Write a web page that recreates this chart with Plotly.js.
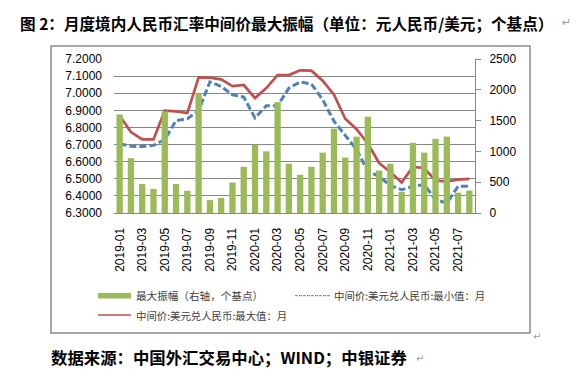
<!DOCTYPE html>
<html>
<head>
<meta charset="utf-8">
<script src="https://cdn.plot.ly/plotly-3.0.1.min.js"></script>
<style>html,body{margin:0;padding:0;background:#fff;}#chart{width:583px;height:380px;}</style>
</head>
<body>
<div id="chart"></div>
<script>
var months = ['2019-01','2019-02','2019-03','2019-04','2019-05','2019-06','2019-07','2019-08','2019-09','2019-10','2019-11','2019-12',
              '2020-01','2020-02','2020-03','2020-04','2020-05','2020-06','2020-07','2020-08','2020-09','2020-10','2020-11','2020-12',
              '2021-01','2021-02','2021-03','2021-04','2021-05','2021-06','2021-07','2021-08'];
var xTickLabels = ['2019-01','2019-03','2019-05','2019-07','2019-09','2019-11','2020-01','2020-03','2020-05','2020-07','2020-09','2020-11','2021-01','2021-03','2021-05','2021-07'];
var amplitude = [1600, 890, 470, 390, 1650, 470, 360, 1950, 210, 245, 495, 750,
                 1110, 1000, 1800, 800, 620, 750, 980, 1370, 900, 1240, 1565, 690,
                 800, 345, 1140, 980, 1205, 1240, 330, 365];
var maxValue = [6.869, 6.773, 6.730, 6.730, 6.898, 6.894, 6.884, 7.093, 7.091, 7.081, 7.042, 7.048,
                6.972, 7.030, 7.106, 7.106, 7.134, 7.132, 7.073, 6.991, 6.851, 6.790, 6.706, 6.592,
                6.540, 6.479, 6.569, 6.563, 6.489, 6.485, 6.495, 6.500];
var minValue = [6.705, 6.690, 6.688, 6.695, 6.729, 6.840, 6.851, 6.898, 7.066, 7.040, 6.991, 6.978,
                6.855, 6.927, 6.927, 7.030, 7.066, 7.054, 6.962, 6.836, 6.754, 6.670, 6.545, 6.514,
                6.460, 6.436, 6.456, 6.466, 6.378, 6.358, 6.456, 6.456];
var leftTicks = [6.3, 6.4, 6.5, 6.6, 6.7, 6.8, 6.9, 7.0, 7.1, 7.2];
var rightTicks = [0, 500, 1000, 1500, 2000, 2500];
var seriesNames = ['最大振幅（右轴，个基点）', '中间价:美元兑人民币:最小值：月', '中间价:美元兑人民币:最大值：月'];
var titleText = '图 2：月度境内人民币汇率中间价最大振幅（单位：元人民币/美元；个基点）';
var sourceText = '数据来源：中国外汇交易中心；WIND；中银证券';

var GREEN = '#9BBB59', RED = '#C0504D', BLUE = '#4F81BD', GRID = '#878787';
var L = 114, R = 108, T = 59, B = 167, W = 583, H = 380;
var PW = W - L - R, PH = H - T - B;
function px(x) { return (x - L) / PW; }
function py(y) { return (H - B - y) / PH; }

var cjk = '"Noto Sans CJK SC", sans-serif';
var latin = '"Liberation Sans", Arial, sans-serif';

var traces = [
  { type: 'bar', x: months, y: amplitude, yaxis: 'y2', name: seriesNames[0],
    marker: { color: GREEN }, showlegend: false, hoverinfo: 'x+y' },
  { type: 'scatter', mode: 'lines', x: months, y: minValue, name: seriesNames[1],
    line: { color: BLUE, width: 3, dash: '7px,3px' }, showlegend: false },
  { type: 'scatter', mode: 'lines', x: months, y: maxValue, name: seriesNames[2],
    line: { color: RED, width: 2.7 }, showlegend: false }
];

var shapes = [
  { type: 'rect', xref: 'paper', yref: 'paper', x0: px(51), x1: px(530), y0: py(46), y1: py(333),
    line: { color: '#8a8a8a', width: 1.5 }, fillcolor: 'rgba(0,0,0,0)' },
  { type: 'rect', xref: 'paper', yref: 'paper', x0: px(98), x1: px(131), y0: py(293), y1: py(298.5),
    line: { width: 0 }, fillcolor: GREEN },
  { type: 'line', xref: 'paper', yref: 'paper', x0: px(295), x1: px(330), y0: py(295.7), y1: py(295.7),
    line: { color: BLUE, width: 1, dash: '3px,1px' } },
  { type: 'line', xref: 'paper', yref: 'paper', x0: px(98), x1: px(131), y0: py(315), y1: py(315),
    line: { color: RED, width: 1.5 } }
];

function ann(text, x, y, size, opts) {
  var a = { text: text, xref: 'paper', yref: 'paper', x: px(x), y: py(y), xanchor: 'left', yanchor: 'middle',
            showarrow: false, font: { family: cjk, size: size, color: '#000' } };
  for (var k in opts) a[k] = opts[k];
  return a;
}
var annotations = [
  ann('<b>' + titleText + '</b>', 18, 23, 15.6, {}),
  ann('↵', 560, 23, 11, { font: { family: 'DejaVu Sans', size: 11, color: '#999' } }),
  ann(seriesNames[0], 134, 295.7, 10.6, { font: { family: cjk, size: 10.6, color: '#404040' } }),
  ann(seriesNames[1], 332, 295.7, 10.4, { font: { family: cjk, size: 10.4, color: '#404040' } }),
  ann(seriesNames[2], 134, 315, 10.4, { font: { family: cjk, size: 10.4, color: '#404040' } }),
  ann('↵', 531, 336, 10, { font: { family: 'DejaVu Sans', size: 10, color: '#999' } }),
  ann('<b>' + sourceText + '</b>', 49, 357, 16.4, {}),
  ann('↵', 414, 358, 10, { font: { family: 'DejaVu Sans', size: 10, color: '#999' } })
];

var layout = {
  width: W, height: H,
  margin: { l: L, r: R, t: T, b: B, pad: 0 },
  paper_bgcolor: '#fff', plot_bgcolor: '#fff',
  showlegend: false,
  bargap: 0.44,
  xaxis: {
    type: 'category', categoryorder: 'array', categoryarray: months,
    tickmode: 'array', tickvals: xTickLabels, ticktext: xTickLabels,
    tickangle: -90, ticks: '', showgrid: false, zeroline: false,
    showline: true, linecolor: GRID, linewidth: 1,
    tickfont: { family: latin, size: 12, color: '#000' }, ticklabelstandoff: 9,
    range: [-0.5, months.length - 0.5], fixedrange: true
  },
  yaxis: {
    range: [6.3, 7.2], tickmode: 'array', tickvals: leftTicks,
    ticktext: leftTicks.map(function (v) { return v.toFixed(4); }),
    showgrid: true, gridcolor: GRID, gridwidth: 1, zeroline: false, showline: false, ticks: '',
    tickfont: { family: latin, size: 12, color: '#000' }, ticklabelstandoff: 11, fixedrange: true
  },
  yaxis2: {
    overlaying: 'y', side: 'right', range: [0, 2500], tickmode: 'array', tickvals: rightTicks,
    ticktext: rightTicks.map(String),
    showgrid: false, zeroline: false, showline: true, linecolor: GRID, linewidth: 1,
    ticks: 'outside', ticklen: 5, tickcolor: GRID, tickwidth: 1,
    tickfont: { family: latin, size: 12, color: '#000' }, ticklabelstandoff: 6, fixedrange: true
  },
  shapes: shapes,
  annotations: annotations
};

Plotly.newPlot('chart', traces, layout, { displayModeBar: false, staticPlot: true });
</script>
</body>
</html>
